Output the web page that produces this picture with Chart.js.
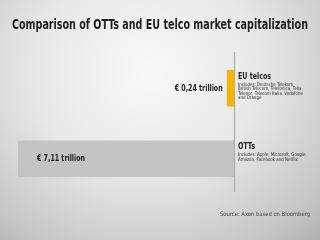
<!DOCTYPE html>
<html><head><meta charset="utf-8">
<script src="https://cdn.jsdelivr.net/npm/chart.js@4"></script>
<style>
html,body{margin:0;padding:0;}
body{width:320px;height:240px;overflow:hidden;
background:radial-gradient(ellipse 78% 95% at 46% 30%, #f8f8f8 0%, #e8e8e8 45%, #c6c6c6 85%, #b2b2b2 100%);}
#wrap{position:absolute;left:0;top:0;width:320px;height:240px;}
</style></head>
<body><div id="wrap"><canvas id="c" width="320" height="240"></canvas></div>
<script>
const categories = ['EU telcos', 'OTTs'];
const values = [0.24, 7.11];
const valueLabels = ['€ 0,24 trillion', '€ 7,11 trillion'];
const descriptions = [
  ['Includes: Deutsche Telekom,', 'British Telecom, Telefonica, Telia,', 'Telenor, Telecom Italia, Vodafone', 'and Orange'],
  ['Includes: Apple, Microsoft, Google,', 'Amazon, Facebook and Netflix']
];
const titleText = 'Comparison of OTTs and EU telco market capitalization';
const sourceText = 'Source: Axon based on Bloomberg';

function fitText(ctx, text, x, y, width, align) {
  const w = ctx.measureText(text).width;
  const s = width / w;
  ctx.save();
  ctx.translate(align === 'right' ? x - width : x, y);
  ctx.scale(s, 1);
  ctx.textAlign = 'left';
  ctx.fillText(text, 0, 0);
  ctx.restore();
}
function scaledText(ctx, text, x, y, s) {
  ctx.save();
  ctx.translate(x, y);
  ctx.scale(s, 1);
  ctx.textAlign = 'left';
  ctx.fillText(text, 0, 0);
  ctx.restore();
}

const textPlugin = {
  id: 'texts',
  afterDatasetsDraw(chart) {
    const ctx = chart.ctx;
    const xs = chart.scales.x;
    const x0 = xs.getPixelForValue(0);
    ctx.save();
    ctx.strokeStyle = '#ababab';
    ctx.lineWidth = 1.2;
    ctx.beginPath();
    ctx.moveTo(x0 + 0.5, chart.chartArea.top - 1);
    ctx.lineTo(x0 + 0.5, chart.chartArea.bottom - 2);
    ctx.stroke();
    ctx.fillStyle = '#1e1e1e';
    ctx.textBaseline = 'alphabetic';
    ctx.font = 'bold 14px "Liberation Sans Narrow", "DejaVu Sans Condensed", sans-serif';
    fitText(ctx, titleText, 12, 29, 296, 'left');
    const meta = chart.getDatasetMeta(0);
    const labelW = [48, 48];
    const catW = [33, 17];
    meta.data.forEach((bar, i) => {
      const yc = bar.y;
      ctx.fillStyle = '#1a1a1a';
      ctx.font = 'bold 9px "DejaVu Sans Condensed", "Liberation Sans", sans-serif';
      if (i === 0) {
        fitText(ctx, valueLabels[i], bar.x - 4, yc + 2.5, labelW[i], 'right');
      } else {
        fitText(ctx, valueLabels[i], 37, yc + 2.5, labelW[i], 'left');
      }
      ctx.font = 'bold 8.5px "DejaVu Sans Condensed", "Liberation Sans", sans-serif';
      const top = bar.y - bar.height / 2;
      fitText(ctx, categories[i], x0 + 4, top + 9, catW[i], 'left');
      ctx.font = '5px "Liberation Sans Narrow", "DejaVu Sans Condensed", sans-serif';
      ctx.fillStyle = '#2a2a2a';
      descriptions[i].forEach((line, k) => {
        scaledText(ctx, line, x0 + 4, top + 16 + k * 4.5, 0.88);
      });
    });
    ctx.fillStyle = '#444';
    ctx.font = '6px "Liberation Sans Narrow", "DejaVu Sans Condensed", sans-serif';
    fitText(ctx, sourceText, 310, 216, 90, 'right');
    ctx.restore();
  }
};

new Chart(document.getElementById('c'), {
  type: 'bar',
  data: {
    labels: categories,
    datasets: [{
      data: values,
      backgroundColor: ['#f4b400', '#c4c4c4'],
      borderWidth: 0,
      barPercentage: 0.52,
      categoryPercentage: 1
    }]
  },
  options: {
    indexAxis: 'y',
    responsive: false,
    animation: false,
    devicePixelRatio: 1,
    layout: { padding: { top: 53, bottom: 46, left: 18, right: 86 } },
    plugins: { legend: { display: false }, tooltip: { enabled: false } },
    scales: {
      x: { display: false, reverse: true, min: 0, max: 7.11 },
      y: { display: false }
    }
  },
  plugins: [textPlugin]
});
</script></body></html>
